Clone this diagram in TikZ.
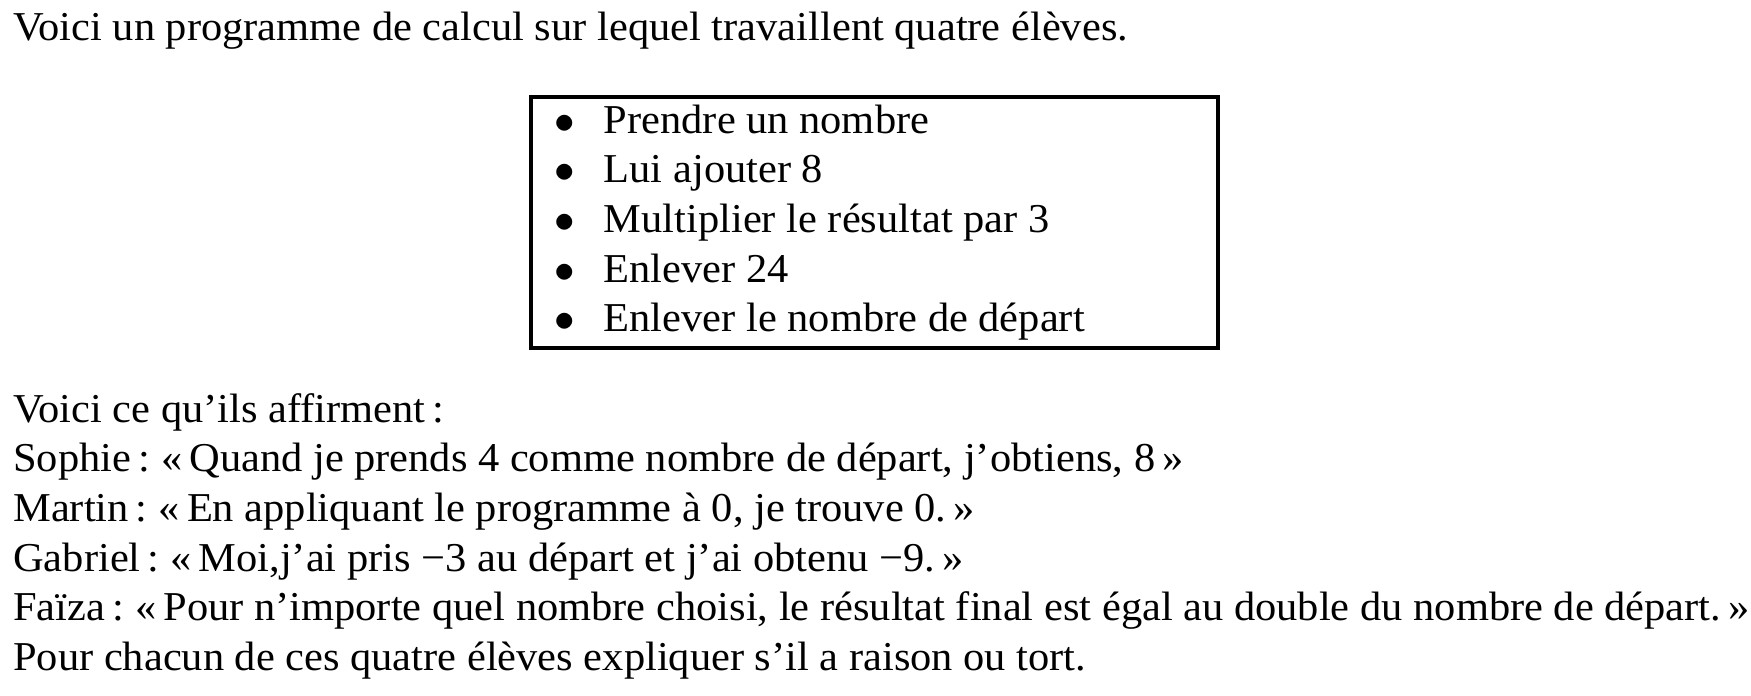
\documentclass[tikz,border=0pt]{standalone}
\usepackage{fontspec}
\setmainfont[FakeStretch=1.035]{Liberation Serif}

\def\gauche{1.3}
\def\puce{58.1}
\def\item{62.0}

\begin{document}
\begin{tikzpicture}[
    ligne/.style={anchor=base west, inner sep=0pt, font=\fontsize{12}{14.5}\selectfont},
    point/.style={anchor=base, inner sep=0pt, font=\fontsize{13}{14.5}\selectfont}]
    \useasboundingbox (0,0) rectangle (180mm,-71.5mm);

    \node[ligne] (intro) at (\gauche mm,-4.18mm) {Voici un programme de calcul sur lequel travaillent quatre élèves.};

    \draw[line width=1.1pt] (54.6mm,-9.97mm) rectangle (125.2mm,-35.8mm);

    \node[point] (b1) at (\puce mm,-13.7mm) {$\bullet$};
    \node[point] (b2) at (\puce mm,-18.8mm) {$\bullet$};
    \node[point] (b3) at (\puce mm,-23.9mm) {$\bullet$};
    \node[point] (b4) at (\puce mm,-29.0mm) {$\bullet$};
    \node[point] (b5) at (\puce mm,-34.1mm) {$\bullet$};

    \node[ligne] (e1) at (\item mm,-13.7mm) {Prendre un nombre};
    \node[ligne] (e2) at (\item mm,-18.8mm) {Lui ajouter 8};
    \node[ligne] (e3) at (\item mm,-23.9mm) {Multiplier le résultat par 3};
    \node[ligne] (e4) at (\item mm,-29.0mm) {Enlever 24};
    \node[ligne] (e5) at (\item mm,-34.1mm) {Enlever le nombre de départ};

    \node[ligne] (affirment) at (\gauche mm,-43.4mm) {Voici ce qu’ils affirment\,:};
    \node[ligne] (sophie) at (\gauche mm,-48.5mm) {Sophie\,:\;«\,Quand je prends 4 comme nombre de départ, j’obtiens, 8\,»};
    \node[ligne] (martin) at (\gauche mm,-53.6mm) {Martin\,:\;«\,En appliquant le programme à 0, je trouve 0.\,»};
    \node[ligne] (gabriel) at (\gauche mm,-58.7mm) {Gabriel\,:\;«\,Moi,j’ai pris −3 au départ et j’ai obtenu −9.\,»};
    \node[ligne] (faiza) at (\gauche mm,-63.8mm) {Faïza\,:\;«\,Pour n’importe quel nombre choisi, le résultat final est égal au double du nombre de départ.\,»};
    \node[ligne] (question) at (\gauche mm,-68.9mm) {Pour chacun de ces quatre élèves expliquer s’il a raison ou tort.};
\end{tikzpicture}
\end{document}
